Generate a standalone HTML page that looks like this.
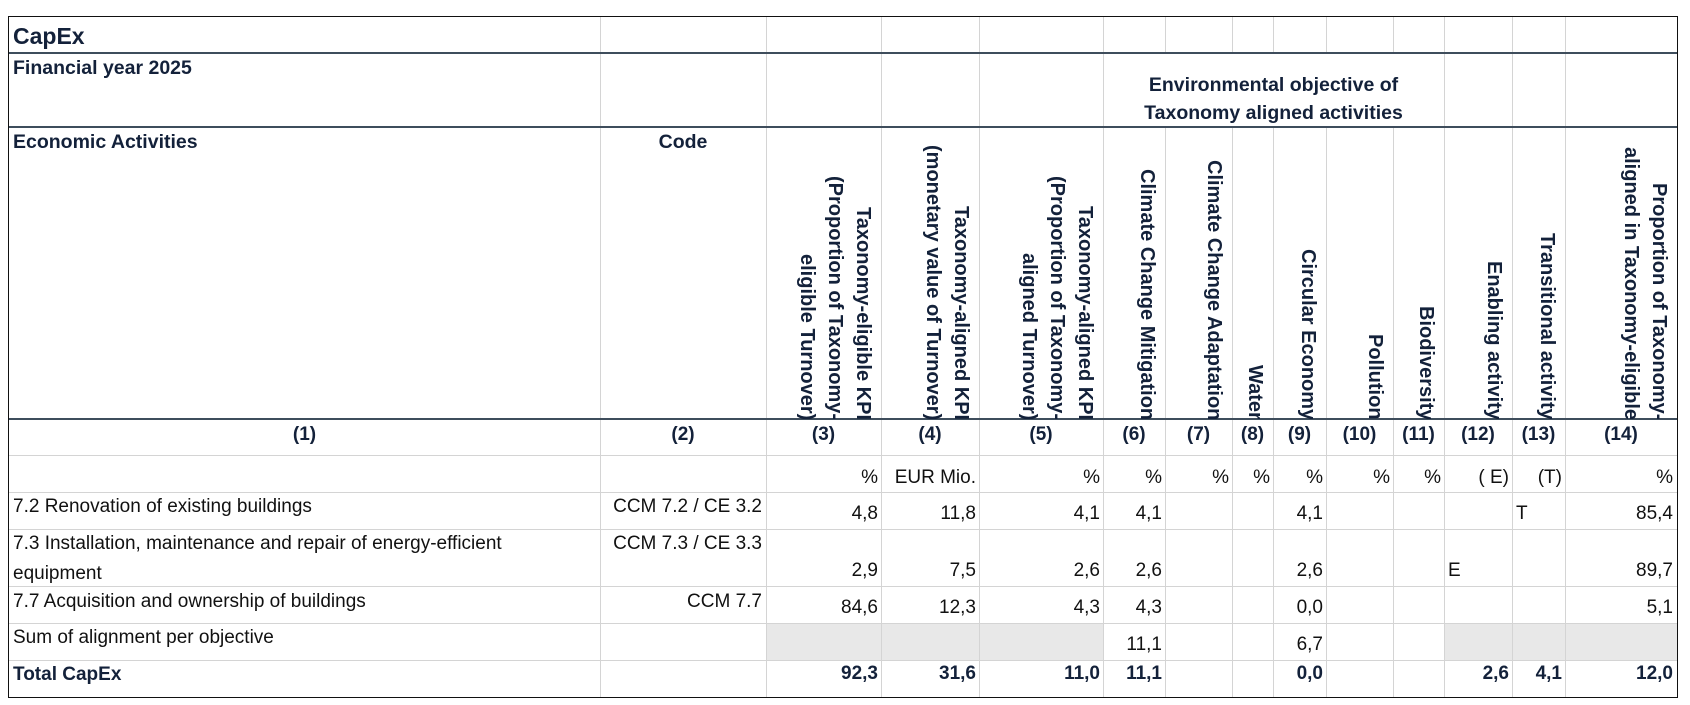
<!DOCTYPE html>
<html><head><meta charset="utf-8"><style>
body{margin:0;width:1690px;height:705px;background:#fff;position:relative;overflow:hidden;font-family:"Liberation Sans",Arial,sans-serif;color:#111;}
.h{position:absolute;height:1px;background:#d4d4d4}
.hd{position:absolute;height:2px;background:#3e4d5c}
.v{position:absolute;width:1px;background:#d4d4d4}
.t{position:absolute;height:24px;line-height:24px;font-size:19px;white-space:nowrap}
.b{font-weight:bold;color:#13213a}
.r{text-align:right}
.c{text-align:center}
.clip{position:absolute;top:128px;height:291px;overflow:hidden}
.vt{position:absolute;right:4px;bottom:-1px;height:300px;writing-mode:vertical-rl;text-align:end;line-height:28px;font-size:20px;font-weight:bold;color:#13213a;white-space:nowrap}
.g{position:absolute;background:#e8e8e8}
</style></head><body>
<div class="g" style="left:766px;top:624px;width:337px;height:36px"></div>
<div class="g" style="left:1444px;top:624px;width:233px;height:36px"></div>

<div class="v" style="left:600px;top:17px;height:680px"></div>
<div class="v" style="left:766px;top:17px;height:680px"></div>
<div class="v" style="left:881px;top:17px;height:680px"></div>
<div class="v" style="left:979px;top:17px;height:680px"></div>
<div class="v" style="left:1103px;top:17px;height:680px"></div>
<div class="v" style="left:1165px;top:17px;height:36px"></div><div class="v" style="left:1165px;top:127px;height:570px"></div>
<div class="v" style="left:1232px;top:17px;height:36px"></div><div class="v" style="left:1232px;top:127px;height:570px"></div>
<div class="v" style="left:1273px;top:17px;height:36px"></div><div class="v" style="left:1273px;top:127px;height:570px"></div>
<div class="v" style="left:1326px;top:17px;height:36px"></div><div class="v" style="left:1326px;top:127px;height:570px"></div>
<div class="v" style="left:1393px;top:17px;height:36px"></div><div class="v" style="left:1393px;top:127px;height:570px"></div>
<div class="v" style="left:1444px;top:17px;height:680px"></div>
<div class="v" style="left:1512px;top:17px;height:680px"></div>
<div class="v" style="left:1565px;top:17px;height:680px"></div>

<div class="hd" style="left:9px;top:52px;width:1668px"></div>
<div class="hd" style="left:9px;top:126px;width:1668px"></div>
<div class="hd" style="left:9px;top:418px;width:1668px"></div>
<div class="h" style="left:9px;top:455px;width:1668px"></div>
<div class="h" style="left:9px;top:492px;width:1668px"></div>
<div class="h" style="left:9px;top:529px;width:1668px"></div>
<div class="h" style="left:9px;top:586px;width:1668px"></div>
<div class="h" style="left:9px;top:623px;width:1668px"></div>
<div class="h" style="left:9px;top:660px;width:1668px"></div>

<div style="position:absolute;left:8px;top:16px;width:1668px;height:680px;border:1px solid #111"></div>

<div class="t b" style="left:13px;top:22px;font-size:23px;height:28px;line-height:28px">CapEx</div>
<div class="t b" style="left:13px;top:56px;font-size:19.5px">Financial year 2025</div>
<div class="t b c" style="left:1103px;width:341px;top:73px;font-size:19.5px">Environmental objective of</div>
<div class="t b c" style="left:1103px;width:341px;top:101px;font-size:19.5px">Taxonomy aligned activities</div>
<div class="t b" style="left:13px;top:130px;font-size:19.5px">Economic Activities</div>
<div class="t b c" style="left:600px;width:166px;top:130px;font-size:19.5px">Code</div>

<div class="clip" style="left:767px;width:114px"><div class="vt">Taxonomy-eligible KPI<br>(Proportion of Taxonomy-<br>eligible Turnover)</div></div>
<div class="clip" style="left:882px;width:97px"><div class="vt">Taxonomy-aligned KPI<br>(monetary value of Turnover)</div></div>
<div class="clip" style="left:980px;width:123px"><div class="vt">Taxonomy-aligned KPI<br>(Proportion of Taxonomy-<br>aligned Turnover)</div></div>
<div class="clip" style="left:1104px;width:61px"><div class="vt">Climate Change Mitigation</div></div>
<div class="clip" style="left:1166px;width:66px"><div class="vt">Climate Change Adaptation</div></div>
<div class="clip" style="left:1233px;width:40px"><div class="vt">Water</div></div>
<div class="clip" style="left:1274px;width:52px"><div class="vt">Circular Economy</div></div>
<div class="clip" style="left:1327px;width:66px"><div class="vt">Pollution</div></div>
<div class="clip" style="left:1394px;width:50px"><div class="vt">Biodiversity</div></div>
<div class="clip" style="left:1445px;width:67px"><div class="vt">Enabling activity</div></div>
<div class="clip" style="left:1513px;width:52px"><div class="vt">Transitional activity</div></div>
<div class="clip" style="left:1566px;width:111px"><div class="vt">Proportion of Taxonomy-<br>aligned in Taxonomy-eligible</div></div>

<div class="t b c" style="left:9px;width:591px;top:423px">(1)</div>
<div class="t b c" style="left:600px;width:166px;top:423px">(2)</div>
<div class="t b c" style="left:766px;width:115px;top:423px">(3)</div>
<div class="t b c" style="left:881px;width:98px;top:423px">(4)</div>
<div class="t b c" style="left:979px;width:124px;top:423px">(5)</div>
<div class="t b c" style="left:1103px;width:62px;top:423px">(6)</div>
<div class="t b c" style="left:1165px;width:67px;top:423px">(7)</div>
<div class="t b c" style="left:1232px;width:41px;top:423px">(8)</div>
<div class="t b c" style="left:1273px;width:53px;top:423px">(9)</div>
<div class="t b c" style="left:1326px;width:67px;top:423px">(10)</div>
<div class="t b c" style="left:1393px;width:51px;top:423px">(11)</div>
<div class="t b c" style="left:1444px;width:68px;top:423px">(12)</div>
<div class="t b c" style="left:1512px;width:53px;top:423px">(13)</div>
<div class="t b c" style="left:1565px;width:112px;top:423px">(14)</div>

<div class="t r" style="left:766px;width:112px;top:466px">%</div>
<div class="t r" style="left:881px;width:95px;top:466px">EUR Mio.</div>
<div class="t r" style="left:979px;width:121px;top:466px">%</div>
<div class="t r" style="left:1103px;width:59px;top:466px">%</div>
<div class="t r" style="left:1165px;width:64px;top:466px">%</div>
<div class="t r" style="left:1232px;width:38px;top:466px">%</div>
<div class="t r" style="left:1273px;width:50px;top:466px">%</div>
<div class="t r" style="left:1326px;width:64px;top:466px">%</div>
<div class="t r" style="left:1393px;width:48px;top:466px">%</div>
<div class="t r" style="left:1444px;width:65px;top:466px">( E)</div>
<div class="t r" style="left:1512px;width:50px;top:466px">(T)</div>
<div class="t r" style="left:1565px;width:108px;top:466px">%</div>

<div class="t" style="left:13px;top:495px">7.2 Renovation of existing buildings</div>
<div class="t r" style="left:600px;width:162px;top:495px">CCM 7.2 / CE 3.2</div>
<div class="t r" style="left:766px;width:112px;top:502px">4,8</div>
<div class="t r" style="left:881px;width:95px;top:502px">11,8</div>
<div class="t r" style="left:979px;width:121px;top:502px">4,1</div>
<div class="t r" style="left:1103px;width:59px;top:502px">4,1</div>
<div class="t r" style="left:1273px;width:50px;top:502px">4,1</div>
<div class="t" style="left:1516px;top:502px">T</div>
<div class="t r" style="left:1565px;width:108px;top:502px">85,4</div>

<div class="t" style="left:13px;top:532px">7.3 Installation, maintenance and repair of energy-efficient</div>
<div class="t" style="left:13px;top:562px">equipment</div>
<div class="t r" style="left:600px;width:162px;top:532px">CCM 7.3 / CE 3.3</div>
<div class="t r" style="left:766px;width:112px;top:559px">2,9</div>
<div class="t r" style="left:881px;width:95px;top:559px">7,5</div>
<div class="t r" style="left:979px;width:121px;top:559px">2,6</div>
<div class="t r" style="left:1103px;width:59px;top:559px">2,6</div>
<div class="t r" style="left:1273px;width:50px;top:559px">2,6</div>
<div class="t" style="left:1448px;top:559px">E</div>
<div class="t r" style="left:1565px;width:108px;top:559px">89,7</div>

<div class="t" style="left:13px;top:590px">7.7 Acquisition and ownership of buildings</div>
<div class="t r" style="left:600px;width:162px;top:590px">CCM 7.7</div>
<div class="t r" style="left:766px;width:112px;top:596px">84,6</div>
<div class="t r" style="left:881px;width:95px;top:596px">12,3</div>
<div class="t r" style="left:979px;width:121px;top:596px">4,3</div>
<div class="t r" style="left:1103px;width:59px;top:596px">4,3</div>
<div class="t r" style="left:1273px;width:50px;top:596px">0,0</div>
<div class="t r" style="left:1565px;width:108px;top:596px">5,1</div>

<div class="t" style="left:13px;top:626px">Sum of alignment per objective</div>
<div class="t r" style="left:1103px;width:59px;top:633px">11,1</div>
<div class="t r" style="left:1273px;width:50px;top:633px">6,7</div>

<div class="t b" style="left:13px;top:663px">Total CapEx</div>
<div class="t b r" style="left:766px;width:112px;top:662px">92,3</div>
<div class="t b r" style="left:881px;width:95px;top:662px">31,6</div>
<div class="t b r" style="left:979px;width:121px;top:662px">11,0</div>
<div class="t b r" style="left:1103px;width:59px;top:662px">11,1</div>
<div class="t b r" style="left:1273px;width:50px;top:662px">0,0</div>
<div class="t b r" style="left:1444px;width:65px;top:662px">2,6</div>
<div class="t b r" style="left:1512px;width:50px;top:662px">4,1</div>
<div class="t b r" style="left:1565px;width:108px;top:662px">12,0</div>
</body></html>
